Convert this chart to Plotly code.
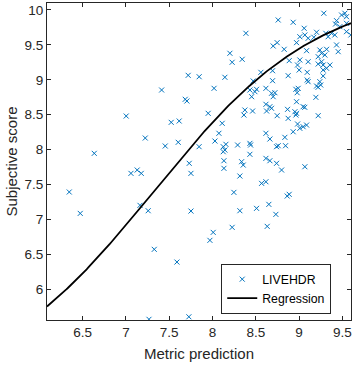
import numpy as np
import plotly.graph_objects as go

# Scatter data (metric prediction vs subjective score)
metric_pred = [
    6.345, 6.472, 6.634, 7.003, 7.058, 7.130, 7.177, 7.162, 7.257, 7.223,
    7.412, 7.454, 7.523, 7.615, 7.604, 7.685, 7.704, 7.719, 7.846, 7.731,
    7.751, 7.751, 7.327, 7.589, 7.727, 7.266, 7.845,
    8.018, 7.950, 8.112, 8.074, 8.028, 8.124, 8.143, 8.124, 8.155, 8.290,
    8.432, 8.440, 8.432, 8.132, 8.336, 8.355, 8.143, 8.201, 8.227, 8.343,
    8.386, 8.470, 8.559, 8.694, 8.432, 8.490, 8.452, 8.509, 8.617, 8.682,
    8.721, 8.701, 8.694, 8.701, 8.747, 8.759, 8.932, 8.828, 8.971, 8.886,
    9.009, 8.982, 9.001, 9.105, 8.874, 9.094, 9.094, 9.105, 8.963, 8.978,
    8.990, 8.971, 9.202, 9.220, 9.194, 8.617, 8.663, 8.625, 8.682, 8.374,
    8.363, 8.463, 8.747, 8.952, 8.971, 8.963, 8.867, 9.047, 9.066, 9.221,
    8.617, 8.663, 8.740, 8.759, 8.836, 8.844, 8.874, 8.932, 8.983, 9.009,
    9.087, 9.047, 8.617, 8.663, 8.740, 9.067, 8.132, 8.798, 8.316, 8.247,
    8.567, 8.617, 8.863, 8.886, 8.316, 8.509, 8.651, 8.732, 8.227, 8.632,
    8.008, 7.970,
    9.286, 9.433, 9.421, 9.491, 9.529, 9.548, 9.059, 9.067, 9.009, 9.105,
    9.202, 9.171, 9.309, 9.336, 9.375, 9.413, 9.087, 9.240, 9.260, 9.318,
    9.298, 9.221, 9.433, 9.452, 9.548, 9.598, 9.260, 9.278, 9.318, 9.278,
    9.221, 9.356, 9.278, 9.471, 9.548, 9.250, 9.240,
]
subjective = [
    7.393, 7.087, 7.947, 8.481, 7.660, 7.708, 7.660, 7.202, 7.125, 8.166,
    8.854, 8.052, 8.391, 8.410, 8.105, 8.721, 8.696, 9.064, 9.044, 7.804,
    7.660, 7.120, 6.572, 6.390, 5.606, 5.570, 8.042,
    8.878, 8.520, 8.377, 8.234, 8.123, 8.042, 7.994, 7.970, 8.076, 8.066,
    8.090, 8.066, 7.933, 7.841, 7.827, 7.779, 9.036, 9.380, 9.251, 9.294,
    9.666, 8.983, 9.107, 9.130, 8.854, 8.830, 8.758, 8.864, 8.878, 8.807,
    8.815, 8.758, 8.987, 9.484, 9.532, 9.857, 9.824, 9.437, 9.532, 9.274,
    9.284, 9.212, 9.140, 9.259, 9.059, 9.107, 8.997, 8.973, 8.864, 8.815,
    8.878, 8.686, 8.911, 8.893, 8.749, 8.649, 8.615, 8.553, 8.592, 8.567,
    8.496, 8.553, 8.486, 8.543, 8.520, 8.496, 8.577, 8.615, 8.606, 8.486,
    8.234, 8.152, 8.042, 8.056, 8.176, 8.056, 8.448, 8.256, 8.367, 8.305,
    8.352, 8.328, 7.875, 7.841, 7.804, 7.755, 7.732, 7.708, 7.622, 7.388,
    7.517, 7.540, 7.335, 7.360, 7.125, 7.159, 7.216, 7.073, 6.887, 6.901,
    6.815, 6.701,
    9.953, 9.847, 9.799, 9.928, 9.953, 9.904, 9.738, 9.642, 9.617, 9.595,
    9.681, 9.609, 9.666, 9.617, 9.666, 9.642, 9.417, 9.427, 9.380, 9.437,
    9.355, 9.331, 9.499, 9.403, 9.689, 9.642, 9.259, 9.212, 9.165, 9.140,
    9.226, 9.212, 9.054, 9.761, 9.809, 8.926, 8.973,
]

# Logistic regression parameters (lower, upper, centre, rate)
reg_lower = 4.5
reg_upper = 10.3
reg_centre = 7.32
reg_rate = 1.046

x_range = [6.088, 9.6]
y_range = [5.56, 10.1]
x_ticks = [6.5, 7, 7.5, 8, 8.5, 9, 9.5]
y_ticks = [6, 6.5, 7, 7.5, 8, 8.5, 9, 9.5, 10]

xr = np.linspace(x_range[0], x_range[1], 300)
yr = reg_lower + (reg_upper - reg_lower) / (1 + np.exp(-reg_rate * (xr - reg_centre)))

axis_col = "#262626"
font_fam = "Liberation Sans, Arial, sans-serif"

fig = go.Figure()
fig.add_trace(go.Scatter(
    x=metric_pred, y=subjective, mode="markers", name="LIVEHDR",
    marker=dict(symbol="x-thin", size=5, color="#0072BD",
                line=dict(color="#0072BD", width=1)),
))
fig.add_trace(go.Scatter(
    x=xr, y=yr, mode="lines", name="Regression",
    line=dict(color="black", width=1.8),
))

fig.update_layout(
    width=355, height=367,
    margin=dict(l=47, r=4, t=3, b=47, autoexpand=False),
    paper_bgcolor="white", plot_bgcolor="white",
    font=dict(family=font_fam, color=axis_col, size=13.5),
    showlegend=True,
    legend=dict(
        x=0.935, xanchor="right", y=0.02, yanchor="bottom",
        bgcolor="white", bordercolor=axis_col, borderwidth=1,
        font=dict(size=12.3, color="black"),
        tracegroupgap=0, itemwidth=30,
    ),
)
fig.update_xaxes(
    range=x_range, tickvals=x_ticks, ticks="inside", ticklen=4,
    tickcolor=axis_col, showline=True, linecolor=axis_col, linewidth=1,
    mirror="ticks", showgrid=False, zeroline=False, automargin=False,
    title=dict(text="Metric prediction", font=dict(size=15, color=axis_col), standoff=9),
)
fig.update_yaxes(
    range=y_range, tickvals=y_ticks, ticks="inside", ticklen=4,
    tickcolor=axis_col, showline=True, linecolor=axis_col, linewidth=1,
    mirror="ticks", showgrid=False, zeroline=False, automargin=False,
    title=dict(text="Subjective score", font=dict(size=15, color=axis_col), standoff=3),
)

fig.write_html("out.html", config={"displayModeBar": False},
               post_script="document.body.style.margin='0';")
